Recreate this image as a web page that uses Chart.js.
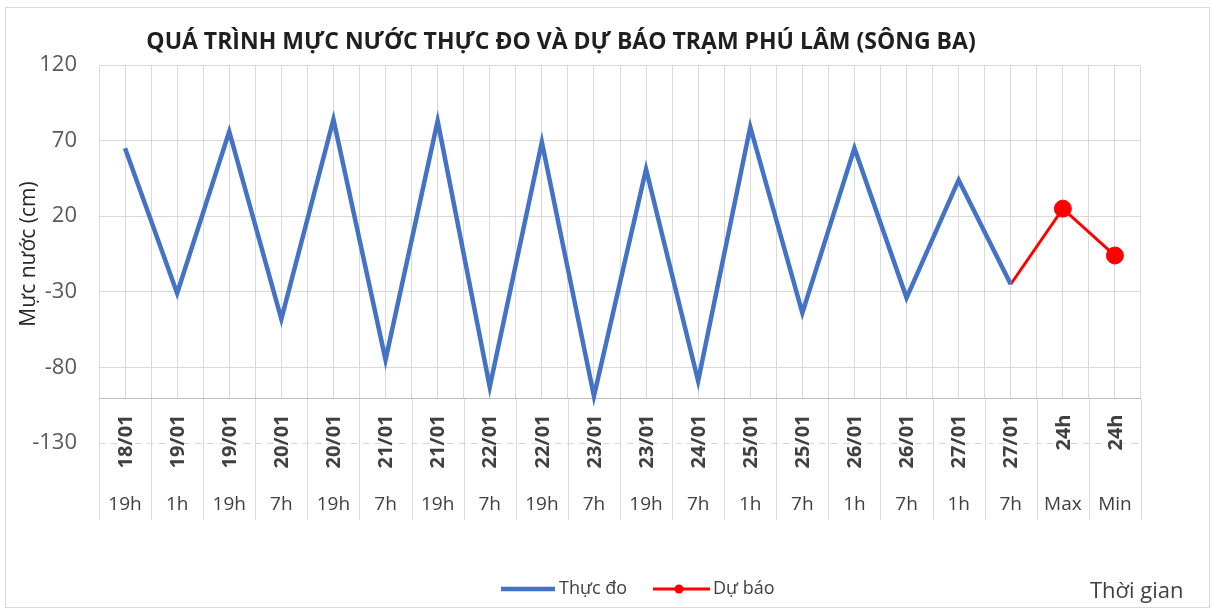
<!DOCTYPE html>
<html>
<head>
<meta charset="utf-8">
<script src="https://cdn.jsdelivr.net/npm/chart.js@4.4.1/dist/chart.umd.min.js"></script>
<style>
    html, body { margin: 0; padding: 0; background: #fff; }
    #myChart { display: block; }
</style>
</head>
<body>
<canvas id="myChart" width="1212" height="610"></canvas>
<script>
const dates = ['18/01', '19/01', '19/01', '20/01', '20/01', '21/01', '21/01', '22/01', '22/01', '23/01',
    '23/01', '24/01', '25/01', '25/01', '26/01', '26/01', '27/01', '27/01', '24h', '24h'];
const hours = ['19h', '1h', '19h', '7h', '19h', '7h', '19h', '7h', '19h', '7h',
    '19h', '7h', '1h', '7h', '1h', '7h', '1h', '7h', 'Max', 'Min'];

// mực nước thực đo (cm)
const observed = [65, -31, 76, -48, 84, -75, 83, -93, 69, -99,
    51, -89, 79, -44, 65, -34, 44, -25, null, null];
// dự báo, nối từ điểm đo cuối
const forecast = [null, null, null, null, null, null, null, null, null, null,
    null, null, null, null, null, null, null, -25, 25, -6];

const yMin = -130;
const yMax = 120;
const yStep = 50;
const axisCross = -100;

const FONT = "'Open Sans', 'Liberation Sans', sans-serif";
const GRID = '#d9d9d9';

const labelTable = {
    id: 'labelTable',
    beforeDatasetsDraw(chart) {
        const { ctx, chartArea: ca } = chart;
        const x = chart.scales.x;
        const y = chart.scales.y;
        const axisY = Math.round(y.getPixelForValue(axisCross)) + 0.5;
        const bottomY = y.getPixelForValue(yMin);
        const half = (x.getPixelForValue(1) - x.getPixelForValue(0)) / 2;
        const tableBottom = axisY + 121;

        ctx.save();
        // vùng nhãn nằm dưới trục ngang
        ctx.fillStyle = '#fff';
        ctx.fillRect(ca.left - 1, axisY + 0.5, ca.width + 2, bottomY - axisY + 2);

        ctx.strokeStyle = GRID;
        ctx.lineWidth = 1;
        ctx.setLineDash([7, 5]);
        ctx.beginPath();
        ctx.moveTo(ca.left, Math.round(bottomY) + 0.5);
        ctx.lineTo(ca.right, Math.round(bottomY) + 0.5);
        ctx.stroke();
        ctx.setLineDash([]);

        for (let i = 0; i <= dates.length; i++) {
            const px = Math.round(x.getPixelForValue(0) - half + i * half * 2) + 0.5;
            ctx.beginPath();
            ctx.moveTo(px, axisY);
            ctx.lineTo(px, tableBottom);
            ctx.stroke();
        }

        ctx.strokeStyle = '#bfbfbf';
        ctx.beginPath();
        ctx.moveTo(ca.left, axisY);
        ctx.lineTo(ca.right, axisY);
        ctx.stroke();

        ctx.fillStyle = '#404040';
        dates.forEach((d, i) => {
            const cx = x.getPixelForValue(i);
            ctx.save();
            ctx.translate(cx + 1, axisY + 16);
            ctx.rotate(-Math.PI / 2);
            ctx.font = 'bold 20px ' + FONT;
            ctx.textAlign = 'right';
            ctx.textBaseline = 'middle';
            ctx.fillText(d, 0, 0);
            ctx.restore();

            ctx.font = '19px ' + FONT;
            ctx.textAlign = 'center';
            ctx.textBaseline = 'middle';
            ctx.fillText(hours[i], cx, axisY + 106);
        });
        ctx.restore();
    }
};

const extras = {
    id: 'extras',
    afterDraw(chart) {
        const { ctx } = chart;
        ctx.save();
        ctx.strokeStyle = GRID;
        ctx.lineWidth = 1;
        ctx.strokeRect(5.5, 7.5, 1204, 600);

        ctx.fillStyle = '#1f1f1f';
        ctx.font = 'bold 23px ' + FONT;
        ctx.textAlign = 'center';
        ctx.textBaseline = 'middle';
        ctx.fillText('QUÁ TRÌNH MỰC NƯỚC THỰC ĐO VÀ DỰ BÁO TRẠM PHÚ LÂM (SÔNG BA)', 561, 42);

        // chú giải
        const ds = chart.data.datasets;
        const ly = 589;
        ctx.font = '18px ' + FONT;
        ctx.textAlign = 'left';
        ctx.fillStyle = '#404040';
        ctx.lineCap = 'butt';

        ctx.strokeStyle = ds[0].borderColor;
        ctx.lineWidth = 4.5;
        ctx.beginPath();
        ctx.moveTo(501, ly);
        ctx.lineTo(555, ly);
        ctx.stroke();
        ctx.fillText(ds[0].label, 559, ly);

        ctx.strokeStyle = ds[1].borderColor;
        ctx.lineWidth = 3;
        ctx.beginPath();
        ctx.moveTo(653, ly);
        ctx.lineTo(710, ly);
        ctx.stroke();
        ctx.fillStyle = ds[1].borderColor;
        ctx.beginPath();
        ctx.arc(679, ly, 4.5, 0, Math.PI * 2);
        ctx.fill();
        ctx.fillStyle = '#404040';
        ctx.fillText(ds[1].label, 713, ly);

        ctx.font = '22px ' + FONT;
        ctx.fillText('Thời gian', 1090, 592);
        ctx.restore();
    }
};

const ctx = document.getElementById('myChart').getContext('2d');
const myChart = new Chart(ctx, {
    type: 'line',
    data: {
        labels: dates.map((d, i) => d + ' ' + hours[i]),
        datasets: [{
            label: 'Thực đo',
            data: observed,
            borderColor: '#4472C4',
            backgroundColor: '#4472C4',
            borderWidth: 4.5,
            pointRadius: 0,
            pointHoverRadius: 0,
            tension: 0
        }, {
            label: 'Dự báo',
            data: forecast,
            borderColor: '#FF0000',
            backgroundColor: '#FF0000',
            borderWidth: 3,
            pointRadius: c => (c.dataIndex >= 18 ? 8.5 : 0),
            pointBackgroundColor: '#FF0000',
            pointBorderColor: '#FF0000',
            pointBorderWidth: 1,
            tension: 0
        }]
    },
    options: {
        responsive: false,
        animation: false,
        layout: {
            padding: { top: 65, right: 71, bottom: 167, left: 0 }
        },
        plugins: {
            legend: { display: false },
            title: { display: false },
            tooltip: { enabled: false }
        },
        scales: {
            x: {
                offset: true,
                grid: { offset: true, color: GRID, drawTicks: false },
                border: { display: false },
                ticks: { display: false },
                afterFit: s => { s.height = 0; }
            },
            x2: {
                position: 'bottom',
                offset: true,
                grid: { offset: false, color: GRID, drawTicks: false },
                border: { display: false },
                ticks: { display: false },
                afterFit: s => { s.height = 0; }
            },
            y: {
                min: yMin,
                max: yMax,
                ticks: {
                    stepSize: yStep,
                    color: '#595959',
                    padding: 22,
                    font: { family: FONT, size: 22 }
                },
                grid: { color: GRID, drawTicks: false },
                border: { display: false },
                title: {
                    display: true,
                    text: 'Mực nước (cm)',
                    color: '#262626',
                    padding: { top: 16, bottom: 0 },
                    font: { family: FONT, size: 21 }
                },
                afterFit: s => { s.width = 99; }
            }
        }
    },
    plugins: [labelTable, extras]
});
</script>
</body>
</html>
